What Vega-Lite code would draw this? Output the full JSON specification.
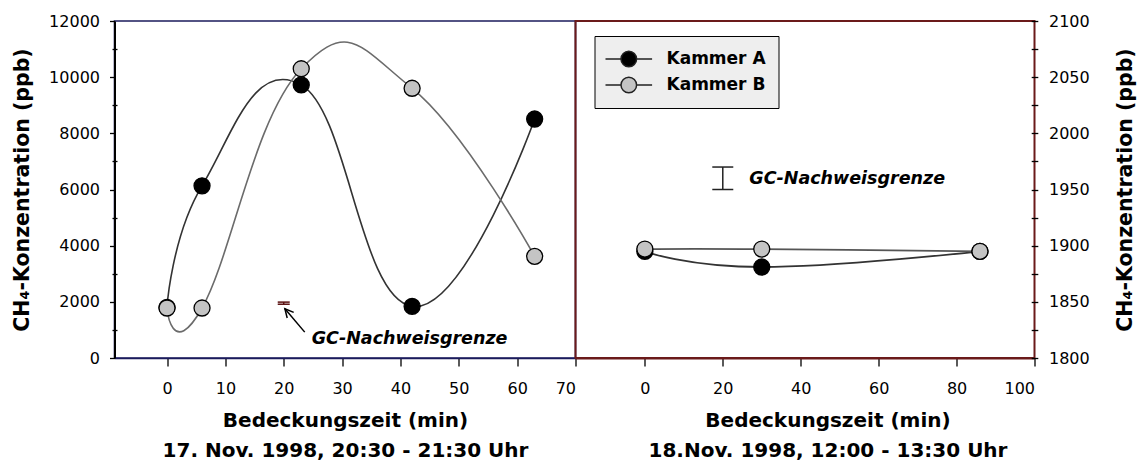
{
  "$schema": "https://vega.github.io/schema/vega-lite/v6.json",
  "background": "white",
  "padding": {"left": 11.5, "top": 12, "right": 5, "bottom": 5},
  "spacing": 0,
  "bounds": "flush",
  "config": {
    "font": "DejaVu Sans",
    "axis": {
      "labelFont": "DejaVu Sans", "labelFontSize": 16, "labelColor": "#000",
      "titleFont": "DejaVu Sans", "titleFontSize": 20, "titleFontWeight": "bold", "titleColor": "#000",
      "grid": false, "tickColor": "#000", "tickWidth": 1.3
    }
  },
  "datasets": {
    "links": [
      {"Kammer": "Kammer A", "t": 0, "ppb": 1800},
      {"Kammer": "Kammer A", "t": 6, "ppb": 6130},
      {"Kammer": "Kammer A", "t": 23, "ppb": 9725},
      {"Kammer": "Kammer A", "t": 42, "ppb": 1840},
      {"Kammer": "Kammer A", "t": 63, "ppb": 8510},
      {"Kammer": "Kammer B", "t": 0, "ppb": 1780},
      {"Kammer": "Kammer B", "t": 6, "ppb": 1780},
      {"Kammer": "Kammer B", "t": 23, "ppb": 10300},
      {"Kammer": "Kammer B", "t": 42, "ppb": 9605},
      {"Kammer": "Kammer B", "t": 63, "ppb": 3620}
    ],
    "rechts": [
      {"Kammer": "Kammer A", "t": 0, "ppb": 1895},
      {"Kammer": "Kammer A", "t": 30, "ppb": 1881},
      {"Kammer": "Kammer A", "t": 86, "ppb": 1895},
      {"Kammer": "Kammer B", "t": 0, "ppb": 1897},
      {"Kammer": "Kammer B", "t": 30, "ppb": 1897},
      {"Kammer": "Kammer B", "t": 86, "ppb": 1895}
    ],
    "grenze_links": [{"t": 20, "lo": 1915, "hi": 1990}],
    "grenze_rechts": [{"t": 20, "lo": 1950, "hi": 1970}],
    "pfeil": [{"t_start": 23.6, "ppb_start": 921, "t_spitze": 20.2, "ppb_spitze": 1756}],
    "notiz_links": [{"t": 24.8, "ppb": 660, "text": "GC-Nachweisgrenze"}],
    "notiz_rechts": [{"t": 26.8, "ppb": 1959, "text": "GC-Nachweisgrenze"}]
  },
  "hconcat": [
    {
      "width": 461,
      "height": 337,
      "view": {"stroke": "#1b1b5c", "strokeWidth": 1.6},
      "resolve": {"axis": {"y": "independent", "x": "independent"}},
      "layer": [
        {
          "data": {"name": "links"},
          "mark": {"type": "line", "interpolate": "cardinal", "tension": -0.35, "strokeWidth": 1.6},
          "encoding": {
            "x": {
              "field": "t", "type": "quantitative",
              "scale": {"domain": [-9, 70], "nice": false, "zero": false},
              "axis": {
                "values": [0, 10, 20, 30, 40, 50, 60, 70], "tickSize": 8, "labelPadding": 14,
                "domainColor": "#1b1b5c", "domainWidth": 1.6,
                "title": ["Bedeckungszeit (min)", "17. Nov. 1998, 20:30 - 21:30 Uhr"],
                "titleLineHeight": 30, "titlePadding": 14
              }
            },
            "y": {
              "field": "ppb", "type": "quantitative",
              "scale": {"domain": [0, 12000], "nice": false},
              "axis": {
                "orient": "left", "values": [0, 2000, 4000, 6000, 8000, 10000, 12000], "format": "d",
                "tickSize": 5, "labelPadding": 10, "domainColor": "#000", "domainWidth": 2,
                "title": "CH₄-Konzentration (ppb)", "titleFontSize": 20.5, "titlePadding": 16
              }
            },
            "stroke": {
              "field": "Kammer", "type": "nominal",
              "scale": {"domain": ["Kammer B", "Kammer A"], "range": ["#6b6b6b", "#333333"]},
              "legend": null
            }
          }
        },
        {
          "data": {"name": "links"},
          "mark": {"type": "point", "filled": true, "size": 256, "stroke": "#000", "strokeWidth": 1.3, "opacity": 1},
          "encoding": {
            "x": {"field": "t", "type": "quantitative", "axis": null},
            "y": {
              "field": "ppb", "type": "quantitative",
              "axis": {
                "orient": "left", "values": [1000, 3000, 5000, 7000, 9000, 11000], "offset": -2.5,
                "tickSize": 5, "domain": false, "labels": false, "title": null
              }
            },
            "fill": {
              "field": "Kammer", "type": "nominal",
              "scale": {"domain": ["Kammer A", "Kammer B"], "range": ["#000000", "#c4c4c4"]},
              "legend": null
            }
          }
        },
        {
          "data": {"name": "grenze_links"},
          "mark": {"type": "rule", "color": "#5a1010", "strokeWidth": 1.5},
          "encoding": {
            "x": {"field": "t", "type": "quantitative", "axis": null},
            "y": {"field": "lo", "type": "quantitative", "axis": null},
            "y2": {"field": "hi"}
          }
        },
        {
          "data": {"name": "grenze_links"},
          "mark": {"type": "tick", "orient": "horizontal", "color": "#5a1010", "size": 12, "thickness": 1.5, "opacity": 1},
          "encoding": {
            "x": {"field": "t", "type": "quantitative", "axis": null},
            "y": {"field": "lo", "type": "quantitative", "axis": null}
          }
        },
        {
          "data": {"name": "grenze_links"},
          "mark": {"type": "tick", "orient": "horizontal", "color": "#5a1010", "size": 12, "thickness": 1.5, "opacity": 1},
          "encoding": {
            "x": {"field": "t", "type": "quantitative", "axis": null},
            "y": {"field": "hi", "type": "quantitative", "axis": null}
          }
        },
        {
          "data": {"name": "pfeil"},
          "mark": {"type": "rule", "color": "#000", "strokeWidth": 1.5},
          "encoding": {
            "x": {"field": "t_start", "type": "quantitative", "axis": null},
            "y": {"field": "ppb_start", "type": "quantitative", "axis": null},
            "x2": {"field": "t_spitze"},
            "y2": {"field": "ppb_spitze"}
          }
        },
        {
          "data": {"name": "pfeil"},
          "mark": {"type": "point", "shape": "M-0.45,0.9L0,0L0.45,0.9", "filled": false, "size": 360, "angle": 319.5, "stroke": "#000", "strokeWidth": 1.5, "opacity": 1},
          "encoding": {
            "x": {"field": "t_spitze", "type": "quantitative", "axis": null},
            "y": {"field": "ppb_spitze", "type": "quantitative", "axis": null}
          }
        },
        {
          "data": {"name": "notiz_links"},
          "mark": {"type": "text", "align": "left", "baseline": "middle", "font": "DejaVu Sans", "fontSize": 17.5, "fontWeight": "bold", "fontStyle": "italic", "color": "#000"},
          "encoding": {
            "x": {"field": "t", "type": "quantitative", "axis": null},
            "y": {"field": "ppb", "type": "quantitative", "axis": null},
            "text": {"field": "text"}
          }
        }
      ]
    },
    {
      "width": 459,
      "height": 337,
      "view": {"stroke": "#6b1a1a", "strokeWidth": 2},
      "resolve": {"axis": {"x": "independent", "y": "independent"}},
      "layer": [
        {
          "data": {"name": "rechts"},
          "mark": {"type": "line", "interpolate": "cardinal", "tension": -0.35, "strokeWidth": 1.8},
          "encoding": {
            "x": {
              "field": "t", "type": "quantitative",
              "scale": {"domain": [-17.8, 100], "nice": false, "zero": false},
              "axis": {
                "values": [0, 20, 40, 60, 80, 100], "tickSize": 8, "labelPadding": 14,
                "domainColor": "#6b1a1a", "domainWidth": 2,
                "title": ["Bedeckungszeit (min)", "18.Nov. 1998, 12:00 - 13:30 Uhr"],
                "titleLineHeight": 30, "titlePadding": 14, "titleX": 252
              }
            },
            "y": {
              "field": "ppb", "type": "quantitative",
              "scale": {"domain": [1800, 2100], "nice": false, "zero": false},
              "axis": {
                "orient": "right", "domain": false, "offset": -3.3, "tickSize": 6.6, "labelPadding": 10.7,
                "values": [1800, 1825, 1850, 1875, 1900, 1925, 1950, 1975, 2000, 2025, 2050, 2075, 2100],
                "format": "d",
                "labelExpr": "datum.value % 50 === 0 ? datum.label : ''",
                "title": "CH₄-Konzentration (ppb)", "titleFontSize": 20.5, "titleAngle": 270, "titlePadding": 46
              }
            },
            "stroke": {
              "field": "Kammer", "type": "nominal",
              "scale": {"domain": ["Kammer B", "Kammer A"], "range": ["#555555", "#333333"]},
              "legend": null
            }
          }
        },
        {
          "data": {"name": "rechts"},
          "mark": {"type": "point", "filled": true, "size": 256, "stroke": "#000", "strokeWidth": 1.3, "opacity": 1},
          "encoding": {
            "x": {"field": "t", "type": "quantitative", "axis": null},
            "y": {"field": "ppb", "type": "quantitative", "axis": null},
            "fill": {
              "field": "Kammer", "type": "nominal",
              "scale": {"domain": ["Kammer A", "Kammer B"], "range": ["#000000", "#c4c4c4"]},
              "legend": {
                "title": null, "orient": "none", "legendX": 19, "legendY": 15,
                "fillColor": "#eeeeee", "strokeColor": "#000", "padding": 12,
                "symbolType": "M-2.33,0L-0.78,0M0.78,0L2.33,0M0.78,0A0.78,0.78,0,1,1,-0.78,0A0.78,0.78,0,1,1,0.78,0Z",
                "symbolSize": 400, "symbolStrokeColor": "#222", "symbolStrokeWidth": 1.5, "symbolOffset": 11.3,
                "labelOffset": 26.7, "labelFont": "DejaVu Sans", "labelFontSize": 17, "labelFontWeight": "bold", "labelColor": "#000",
                "rowPadding": 4
              }
            }
          }
        },
        {
          "data": {"name": "grenze_rechts"},
          "mark": {"type": "rule", "color": "#222", "strokeWidth": 1.5},
          "encoding": {
            "x": {"field": "t", "type": "quantitative", "axis": null},
            "y": {"field": "lo", "type": "quantitative", "axis": null},
            "y2": {"field": "hi"}
          }
        },
        {
          "data": {"name": "grenze_rechts"},
          "mark": {"type": "tick", "orient": "horizontal", "color": "#222", "size": 21, "thickness": 1.5, "opacity": 1},
          "encoding": {
            "x": {"field": "t", "type": "quantitative", "axis": null},
            "y": {"field": "lo", "type": "quantitative", "axis": null}
          }
        },
        {
          "data": {"name": "grenze_rechts"},
          "mark": {"type": "tick", "orient": "horizontal", "color": "#222", "size": 21, "thickness": 1.5, "opacity": 1},
          "encoding": {
            "x": {"field": "t", "type": "quantitative", "axis": null},
            "y": {"field": "hi", "type": "quantitative", "axis": null}
          }
        },
        {
          "data": {"name": "notiz_rechts"},
          "mark": {"type": "text", "align": "left", "baseline": "middle", "font": "DejaVu Sans", "fontSize": 17.5, "fontWeight": "bold", "fontStyle": "italic", "color": "#000"},
          "encoding": {
            "x": {"field": "t", "type": "quantitative", "axis": null},
            "y": {"field": "ppb", "type": "quantitative", "axis": null},
            "text": {"field": "text"}
          }
        }
      ]
    }
  ],
  "resolve": {"scale": {"fill": "independent", "stroke": "independent"}}
}
